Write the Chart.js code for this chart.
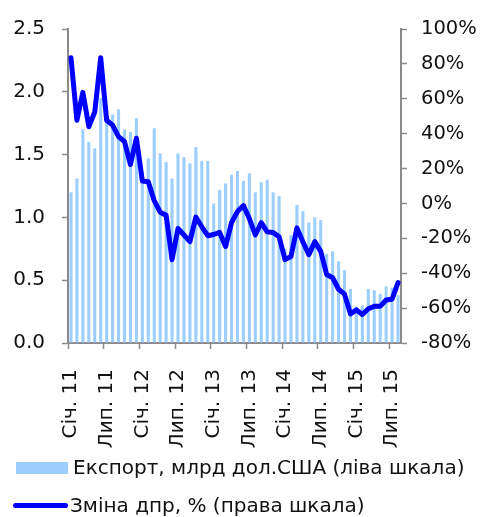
<!DOCTYPE html>
<html>
<head>
<meta charset="utf-8">
<script src="https://cdn.jsdelivr.net/npm/chart.js@4/dist/chart.umd.min.js"></script>
<style>
  html, body { margin: 0; padding: 0; background: #ffffff; }
  #wrap { position: relative; width: 486px; height: 517px; }
  #chart { position: absolute; left: 0; top: 0; }
  .legend-row {
    position: absolute;
    font-family: "DejaVu Sans", Verdana, sans-serif;
    font-size: 20px;
    color: #111111;
    white-space: nowrap;
    line-height: 20px;
  }
  .sw-bar { position: absolute; left: 16px; top: 462px; width: 52px; height: 12px; background: #9ccfff; }
  .sw-line { position: absolute; left: 13px; top: 503px; width: 55px; height: 5px; background: #0000ff; border-radius: 3px; }
</style>
</head>
<body>
<div id="wrap">
  <canvas id="chart" width="486" height="517"></canvas>
  <div class="sw-bar"></div>
  <div class="legend-row" style="left:73px; top:457px;">Експорт, млрд дол.США (ліва шкала)</div>
  <div class="sw-line"></div>
  <div class="legend-row" style="left:70px; top:495px;">Зміна дпр, % (права шкала)</div>
</div>
<script>
// місяці та роки для підписів осі X
const monthNames = ['Січ.', 'Лют.', 'Бер.', 'Кві.', 'Тра.', 'Чер.', 'Лип.', 'Сер.', 'Вер.', 'Жов.', 'Лис.', 'Гру.'];
const years = ['11', '12', '13', '14', '15'];
const monthCount = 56; // січ. 2011 - сер. 2015

// експорт, млрд дол. США (ліва шкала)
const exportValues = [
  1.20, 1.31, 1.70, 1.60, 1.55, 1.95, 1.77, 1.82, 1.86, 1.70, 1.68, 1.79,
  1.36, 1.47, 1.71, 1.51, 1.44, 1.31, 1.51, 1.48, 1.43, 1.56, 1.45, 1.45,
  1.11, 1.22, 1.27, 1.34, 1.37, 1.29, 1.35, 1.20, 1.28, 1.30, 1.20, 1.17,
  0.75, 0.86, 1.10, 1.05, 0.96, 1.00, 0.98, 0.71, 0.73, 0.65, 0.58, 0.43,
  0.29, 0.30, 0.43, 0.42, 0.39, 0.45, 0.44, 0.38
];

// зміна до попереднього року, % (права шкала)
const changeValues = [
  83.5, 47.7, 63.7, 44.0, 52.4, 83.5, 47.7, 44.9, 38.3, 35.5, 22.3, 37.4,
  12.9, 12.4, 1.6, -5.0, -6.8, -32.2, -14.4, -18.1, -21.9, -7.8, -13.4, -18.5,
  -17.8, -16.6, -24.7, -11.0, -4.6, -1.2, -8.7, -18.1, -11.0, -16.3, -16.6, -19.1,
  -32.2, -30.4, -14.0, -21.9, -29.4, -21.9, -27.5, -40.7, -42.6, -49.2, -52.0, -63.3,
  -61.0, -63.7, -60.4, -59.0, -59.0, -55.4, -54.9, -45.4
];

const leftTicks = { min: 0, max: 2.5, step: 0.5 };
const rightTicks = { min: -80, max: 100, step: 20 };

const labels = [];
for (let i = 0; i < monthCount; i++) {
  labels.push(monthNames[i % 12] + ' ' + years[Math.floor(i / 12)]);
}

const axisGray = '#8a8a8a';
const font = { family: '"DejaVu Sans", Verdana, sans-serif', size: 20 };

const ctx = document.getElementById('chart').getContext('2d');

new Chart(ctx, {
  data: {
    labels: labels,
    datasets: [
      {
        type: 'line',
        label: 'Зміна дпр, % (права шкала)',
        data: changeValues,
        yAxisID: 'y2',
        borderColor: '#0000ff',
        borderWidth: 5,
        borderCapStyle: 'round',
        borderJoinStyle: 'round',
        pointRadius: 0,
        tension: 0,
        fill: false,
        order: 0
      },
      {
        type: 'bar',
        label: 'Експорт, млрд дол.США (ліва шкала)',
        data: exportValues,
        yAxisID: 'y',
        backgroundColor: '#9ccfff',
        borderWidth: 0,
        barPercentage: 0.52,
        categoryPercentage: 1.0,
        order: 1
      }
    ]
  },
  options: {
    responsive: false,
    animation: false,
    layout: { padding: { top: 24, left: 0, right: 0, bottom: 0 } },
    scales: {
      x: {
        offset: true,
        grid: {
          offset: true,
          drawOnChartArea: false,
          drawTicks: true,
          tickLength: 6,
          tickWidth: 1.5,
          tickColor: (c) => (c.index % 6 === 0 ? axisGray : 'rgba(0,0,0,0)')
        },
        border: { display: true, color: axisGray, width: 2 },
        ticks: {
          autoSkip: false,
          minRotation: 90,
          maxRotation: 90,
          padding: 20,
          color: '#111111',
          font: font,
          callback: function (value, index) {
            return index % 6 === 0 ? labels[index] : '';
          }
        },
        afterFit: (scale) => { scale.height = 174; }
      },
      y: {
        position: 'left',
        min: leftTicks.min,
        max: leftTicks.max,
        grid: {
          drawOnChartArea: false,
          drawTicks: true,
          tickLength: 6,
          tickWidth: 1.5,
          tickColor: axisGray
        },
        border: { display: true, color: axisGray, width: 2 },
        ticks: {
          stepSize: leftTicks.step,
          padding: 17,
          color: '#111111',
          font: font,
          callback: (v) => v.toFixed(1)
        },
        afterFit: (scale) => { scale.width = 68; }
      },
      y2: {
        position: 'right',
        min: rightTicks.min,
        max: rightTicks.max,
        grid: {
          drawOnChartArea: false,
          drawTicks: true,
          tickLength: 6,
          tickWidth: 1.5,
          tickColor: axisGray
        },
        border: { display: true, color: axisGray, width: 2 },
        ticks: {
          stepSize: rightTicks.step,
          padding: 14,
          color: '#111111',
          font: { family: font.family, size: 19.5 },
          callback: (v) => v + '%'
        },
        afterFit: (scale) => { scale.width = 85; }
      }
    },
    plugins: {
      legend: { display: false },
      tooltip: { enabled: false }
    }
  }
});
</script>
</body>
</html>
